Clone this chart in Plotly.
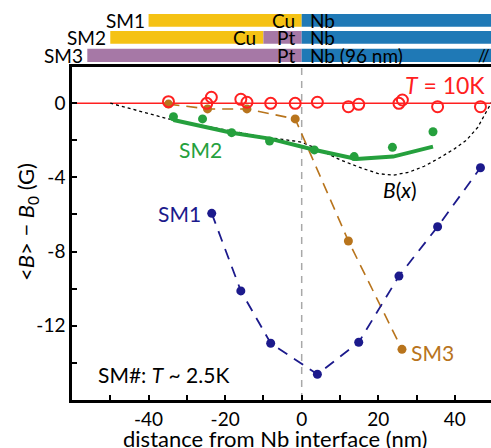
import plotly.graph_objects as go

# ---------------- data ----------------
# SM1 (navy, filled, dashed)
sm1_x = [-23.5, -15.9, -8.1, 4.1, 14.9, 25.4, 35.5, 46.7]
sm1_y = [-5.94, -10.12, -12.94, -14.61, -12.89, -9.32, -6.66, -3.48]
# SM2 (green, filled points)
sm2_x = [-33.5, -25.9, -18.3, -8.4, 3.3, 13.7, 23.7, 34.3]
sm2_y = [-0.73, -0.85, -1.59, -2.04, -2.52, -2.88, -2.38, -1.54]
# SM2 model curve (green solid)
sm2fit_x = [-33.5, -18.3, -8.4, 3.5, 14.3, 23.9, 34.3]
sm2fit_y = [-0.91, -1.59, -1.91, -2.52, -3.01, -2.88, -2.34]
# SM3 (brown, filled, dashed)
sm3_x = [-34.8, -24.6, -14.3, -1.7, 12.2, 26.2]
sm3_y = [-0.05, -0.31, -0.31, -0.85, -7.43, -13.27]
# T = 10K (red open circles)
red_x = [-34.8, -24.8, -23.6, -15.9, -14.3, -8.1, -1.7, 4.1, 12.2, 14.9, 25.4, 26.3, 35.5, 46.7]
red_y = [0.08, -0.01, 0.32, 0.21, 0.05, -0.01, -0.01, 0.05, -0.19, -0.06, -0.01, 0.17, -0.19, -0.19]
# B(x) curve (black dotted)
bx_x = [-50, -45, -40, -35, -30, -25, -20, -15, -10, -5, 0, 5, 10, 15, 20, 24, 28, 32, 36, 40, 43, 46, 48.7, 50]
bx_y = [0, -0.28, -0.56, -0.84, -1.05, -1.25, -1.45, -1.65, -1.82, -1.95, -2.1, -2.55, -3.05, -3.45,
        -3.8, -3.88, -3.72, -3.4, -2.95, -2.45, -2.0, -1.3, -0.3, 0.2]

# axis ticks
x_tickvals = [-50, -40, -30, -20, -10, 0, 10, 20, 30, 40]
x_ticktext = [" ", "-40", " ", "-20", " ", "0", " ", "20", " ", "40"]
y_tickvals = [0, -2, -4, -6, -8, -10, -12, -14]
y_ticktext = ["0", " ", "-4", " ", "-8", " ", "-12", " "]

# sample layer stacks (nm from Nb interface)
stack_names = ["SM1", "SM2", "SM3"]
stack_layers = [
    [("Cu", -40, 0), ("Nb", 0, 49.45)],
    [("Cu", -50, -10), ("Pt", -10, 0), ("Nb", 0, 49.45)],
    [("Pt", -56, 0), ("Nb (96 nm)", 0, 49.45)],
]

# ---------------- styles ----------------
FONT = "Lato"
NAVY = "#1c1a8c"
GREEN = "#25a03d"
BROWN = "#b8741c"
RED = "#ff2020"
YELLOW = "#f5c214"
BLUE = "#1f79b6"
PURPLE = "#a678a6"
layer_color = {"Cu": YELLOW, "Pt": PURPLE, "Nb": BLUE, "Nb (96 nm)": BLUE}

X_RANGE = [-60, 49.45]
Y_RANGE = [-16, 1.95]

fig = go.Figure()

fig.add_trace(go.Scatter(x=bx_x, y=bx_y, mode="lines",
                         line=dict(color="black", width=1.3, dash="3px,3px"),
                         showlegend=False, hoverinfo="skip"))
fig.add_trace(go.Scatter(x=sm3_x, y=sm3_y, mode="lines+markers",
                         line=dict(color=BROWN, width=1.6, dash="11px,7px"),
                         marker=dict(color=BROWN, size=9),
                         showlegend=False))
fig.add_trace(go.Scatter(x=sm1_x, y=sm1_y, mode="lines+markers",
                         line=dict(color=NAVY, width=1.8, dash="11px,8px"),
                         marker=dict(color=NAVY, size=9),
                         showlegend=False))
fig.add_trace(go.Scatter(x=sm2fit_x, y=sm2fit_y, mode="lines",
                         line=dict(color=GREEN, width=4),
                         showlegend=False))
fig.add_trace(go.Scatter(x=sm2_x, y=sm2_y, mode="markers",
                         marker=dict(color=GREEN, size=9),
                         showlegend=False))
fig.add_trace(go.Scatter(x=red_x, y=red_y, mode="markers",
                         marker=dict(symbol="circle-open", color=RED, size=11,
                                     line=dict(width=2, color=RED)),
                         showlegend=False))

# reference lines
fig.add_hline(y=0, line=dict(color=RED, width=1.5), layer="below")
fig.add_vline(x=0, line=dict(color="#a8a8a8", width=1.5, dash="7px,6px"), layer="below")

# sample stack bars above the plot
row_y = [(1.121, 1.159), (1.070, 1.108), (1.015, 1.055)]
for name, layers, (y0, y1) in zip(stack_names, stack_layers, row_y):
    ym = (y0 + y1) / 2
    for lab, a, b in layers:
        fig.add_shape(type="rect", xref="x", yref="paper", x0=a, x1=b, y0=y0, y1=y1,
                      fillcolor=layer_color[lab], line=dict(width=0), layer="above")
    left = min(l[1] for l in layers)
    fig.add_annotation(x=left, y=ym, xref="x", yref="paper", text=name, showarrow=False,
                       xanchor="right", yanchor="middle", xshift=-2,
                       font=dict(family=FONT, size=19, color="black"))
    for lab, a, b in layers:
        if lab.startswith("Nb"):
            fig.add_annotation(x=a, y=ym, xref="x", yref="paper", text=lab, showarrow=False,
                               xanchor="left", yanchor="middle", xshift=6,
                               font=dict(family=FONT, size=19, color="black"))
        else:
            fig.add_annotation(x=b, y=ym, xref="x", yref="paper", text=lab, showarrow=False,
                               xanchor="right", yanchor="middle", xshift=-5,
                               font=dict(family=FONT, size=19, color="black"))
fig.add_annotation(x=47.6, y=sum(row_y[2]) / 2, xref="x", yref="paper", text="//",
                   showarrow=False, xanchor="center", yanchor="middle",
                   font=dict(family=FONT, size=17, color="black"))

# in-plot labels
def label(x, y, text, color, size=21):
    fig.add_annotation(x=x, y=y, xref="x", yref="y", text=text, showarrow=False,
                       xanchor="center", yanchor="middle",
                       font=dict(family=FONT, size=size, color=color))

label(37.4, 0.98, "<i>T</i> = 10K", RED, 23)
label(-26.4, -2.47, "SM2", GREEN)
label(-31.8, -5.97, "SM1", NAVY)
label(34.2, -13.44, "SM3", BROWN)
label(25.6, -4.65, "<i>B</i>(<i>x</i>)", "black")
label(-36.0, -14.6, "SM#: <i>T</i> ~ 2.5K", "black")

# axis titles
fig.add_annotation(x=(275 - 72) / 419, y=(400 - 439) / 333, xref="paper", yref="paper",
                   text="distance from Nb interface (nm)", showarrow=False,
                   xanchor="center", yanchor="middle",
                   font=dict(family=FONT, size=22, color="black"))
fig.add_annotation(x=(27 - 72) / 419, y=(400 - 222) / 333, xref="paper", yref="paper",
                   text="&lt;<i>B</i>&gt; − <i>B</i><sub>0</sub> (G)", showarrow=False,
                   textangle=-90, xanchor="center", yanchor="middle",
                   font=dict(family=FONT, size=22, color="black"))

fig.update_xaxes(range=X_RANGE, tickmode="array", tickvals=x_tickvals, ticktext=x_ticktext,
                 ticks="inside", ticklen=5, tickwidth=2, tickcolor="black",
                 showline=True, linecolor="black", linewidth=2.5, mirror=True,
                 showgrid=False, zeroline=False,
                 tickfont=dict(family=FONT, size=19, color="black"))
fig.update_yaxes(range=Y_RANGE, tickmode="array", tickvals=y_tickvals, ticktext=y_ticktext,
                 ticks="inside", ticklen=5, tickwidth=2, tickcolor="black",
                 showline=True, linecolor="black", linewidth=2.5, mirror=False,
                 showgrid=False, zeroline=False,
                 tickfont=dict(family=FONT, size=19, color="black"))

fig.update_layout(width=491, height=448,
                  margin=dict(l=72, r=0, t=67, b=48, pad=0),
                  plot_bgcolor="white", paper_bgcolor="white",
                  font=dict(family=FONT, color="black"),
                  showlegend=False)

fig.write_html("out.html", config={"displayModeBar": False},
               post_script="document.body.style.margin='0px';document.body.style.overflow='hidden';")
